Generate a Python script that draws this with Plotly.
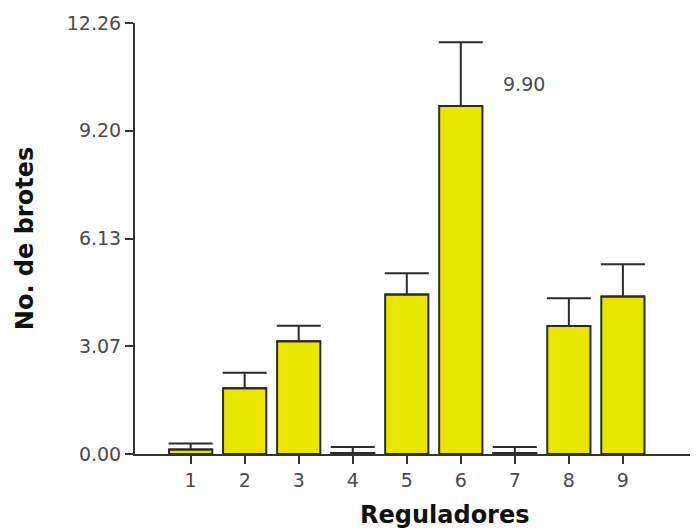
import plotly.graph_objects as go

categories = ["1", "2", "3", "4", "5", "6", "7", "8", "9"]
means = [0.13, 1.87, 3.21, 0.03, 4.54, 9.90, 0.03, 3.64, 4.48]
errors = [0.17, 0.44, 0.44, 0.17, 0.60, 1.81, 0.17, 0.79, 0.92]
y_tickvals = [0.0, 3.07, 6.13, 9.20, 12.26]
y_ticktext = ["0.00", "3.07", "6.13", "9.20", "12.26"]
label_text = "9.90"
x_title = "Reguladores"
y_title = "No. de brotes"

x_pos = [int(c) for c in categories]

TICK_FONT = dict(family="DejaVu Sans", size=19, color="#4a4a4a")
TITLE_FONT = dict(family="DejaVu Sans", size=24, color="#111111")

fig = go.Figure()
fig.add_trace(go.Bar(
    x=x_pos, y=means, width=0.8,
    marker=dict(color="#e8e600", line=dict(color="#2b2b2b", width=2)),
    error_y=dict(type="data", array=errors, symmetric=False,
                 arrayminus=[0] * len(errors),
                 color="#2b2b2b", thickness=2, width=22),
))

fig.add_annotation(x=6, y=means[5], text=label_text, showarrow=False,
                   xanchor="left", yanchor="middle", xshift=40, yshift=22,
                   font=TICK_FONT)

# x-axis title (offset to the right as in the reference)
fig.add_annotation(x=0.551, xref="paper", y=0, yref="paper", text=f"<b>{x_title}</b>",
                   showarrow=False, xanchor="center", yanchor="middle", yshift=-61,
                   font=TITLE_FONT)

fig.update_layout(
    width=690, height=523,
    margin=dict(l=127, r=0, t=15, b=77, pad=0),
    paper_bgcolor="white", plot_bgcolor="white",
    showlegend=False,
    xaxis=dict(
        range=[-0.03, 10.39],
        tickvals=x_pos, ticktext=categories,
        showline=True, linecolor="#333333", linewidth=2,
        ticks="outside", ticklen=8, tickwidth=2, tickcolor="#333333",
        showgrid=False, zeroline=False,
        tickfont=TICK_FONT,
    ),
    yaxis=dict(
        range=[0, 12.26],
        tickvals=y_tickvals, ticktext=y_ticktext,
        showline=True, linecolor="#333333", linewidth=2,
        ticks="outside", ticklen=8, tickwidth=2, tickcolor="#333333",
        showgrid=False, zeroline=False,
        tickfont=TICK_FONT,
        title=dict(text=f"<b>{y_title}</b>", standoff=26, font=TITLE_FONT),
    ),
)

fig.write_html("out.html")
